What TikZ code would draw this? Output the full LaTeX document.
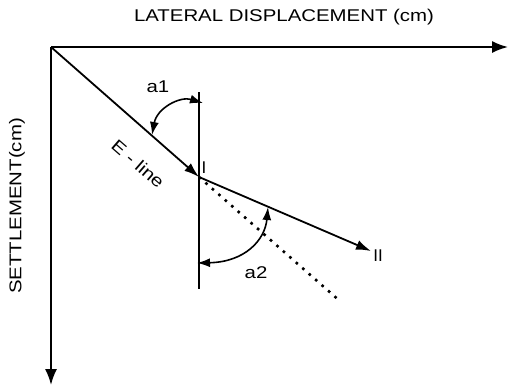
\documentclass[tikz,border=0pt]{standalone}
\usepackage{fontspec}
\usepackage{graphicx}
\setmainfont{Liberation Sans}
\usetikzlibrary{arrows.meta}
\newcommand\wtxt[1]{\scalebox{1.2}[1]{#1}}
\tikzset{
  axis/.style={line width=1.8pt,-{Latex[length=16pt,width=12pt]}},
  ln/.style={line width=1.6pt},
  arr/.style={line width=1.8pt,-{Latex[length=15pt,width=10pt]}},
  arcarr/.style={line width=1.6pt,{Latex[length=13pt,width=9pt]}-{Latex[length=13pt,width=9pt]}},
  dots/.style={line width=2.6pt,dash pattern=on 2.6pt off 6pt},
  lbl/.style={inner sep=0pt,font=\fontsize{17}{20}\selectfont}
}
\begin{document}
\begin{tikzpicture}[x=1pt,y=-1pt]
\useasboundingbox (0,0) rectangle (508,389);
\coordinate (O) at (51,47);
\coordinate (X) at (508,47);
\coordinate (Y) at (51,385);
\coordinate (I) at (199,177);
\coordinate (II) at (371,251);
\coordinate (D) at (341,302);
\coordinate (VT) at (199,92);
\coordinate (VB) at (199,289);
\coordinate (A1s) at (152,135);
\coordinate (A1e) at (203,103);
\coordinate (A2s) at (197,263);
\coordinate (A2e) at (268,207);
\draw[axis] (O) -- (X);
\draw[axis] (O) -- (Y);
\draw[ln] (VT) -- (VB);
\draw[dots] (I) -- (D);
\draw[arr] (O) -- (I);
\draw[arr] (I) -- (II);
\draw[arcarr] (A1s) .. controls (157,108) and (180,96) .. (A1e);
\draw[arcarr] (A2s) .. controls (245,262) and (265,240) .. (A2e);
\node[lbl] (tx) at (284,17) {\wtxt{LATERAL DISPLACEMENT (cm)}};
\node[lbl,rotate=90] (ty) at (17,206) {\wtxt{SETTLEMENT(cm)}};
\node[lbl] (la1) at (158,87) {\wtxt{a1}};
\node[lbl] (la2) at (256,273) {\wtxt{a2}};
\node[lbl] (lI) at (204,168) {I};
\node[lbl] (lII) at (378,256) {II};
\node[lbl,rotate=-41] (le) at (138,164) {\wtxt{E - line}};
\end{tikzpicture}
\end{document}
